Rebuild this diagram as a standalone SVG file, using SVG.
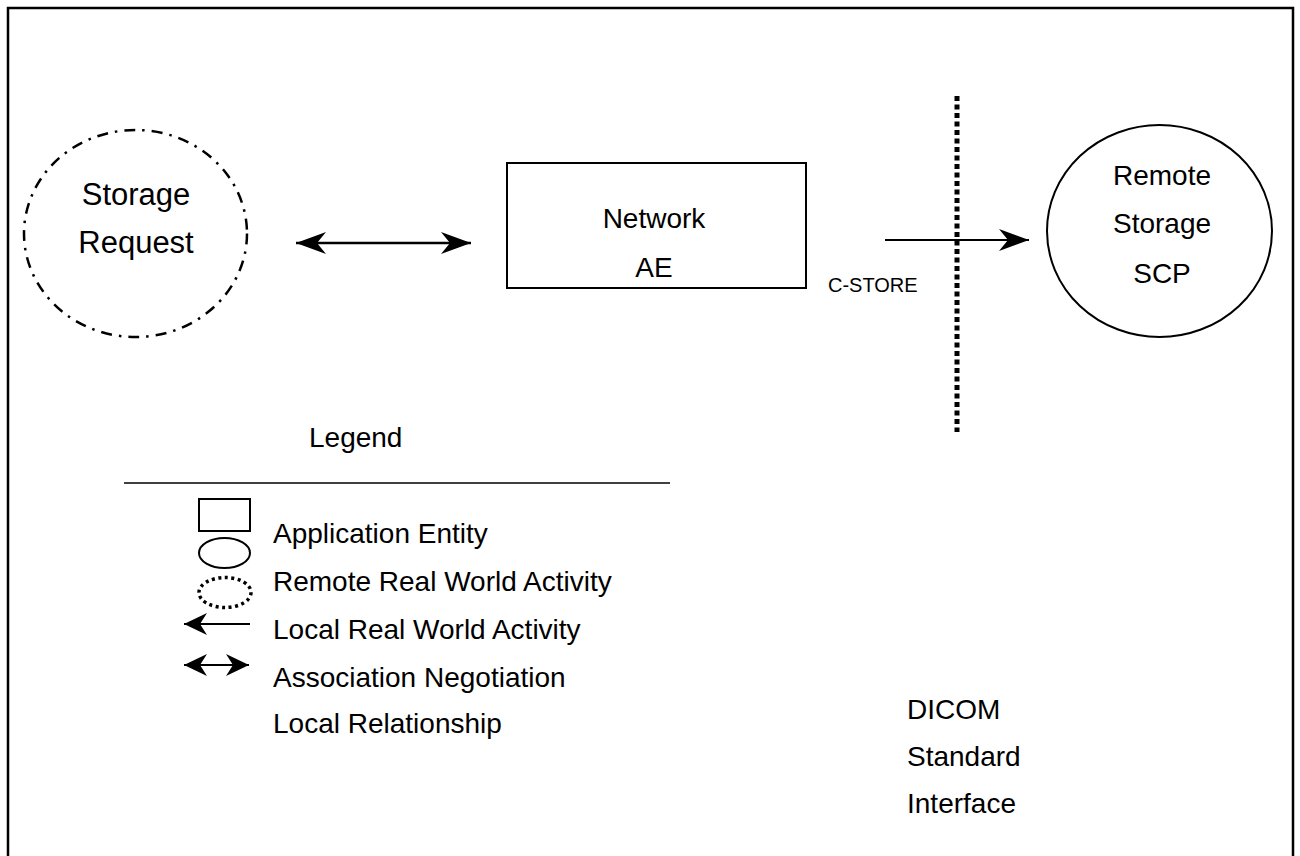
<svg xmlns="http://www.w3.org/2000/svg" width="1300" height="856" viewBox="0 0 1300 856">
<defs>
<style>
text{font-family:"Liberation Sans",Arial,sans-serif;fill:#000}
.c{text-anchor:middle}
.n{font-size:28px}
.big{font-size:31px}
.sm{font-size:20px}
.ln{fill:none;stroke:#000;stroke-width:2}
</style>
<marker id="ah" markerUnits="userSpaceOnUse" markerWidth="32" markerHeight="24" refX="30" refY="11" orient="auto-start-reverse" viewBox="0 0 32 24">
<path d="M0,0 L30,11 L0,22 L9,11 z" fill="#000"/>
</marker>
<marker id="ahs" markerUnits="userSpaceOnUse" markerWidth="25" markerHeight="24" refX="23" refY="11" orient="auto-start-reverse" viewBox="0 0 25 24">
<path d="M0,0 L23,11 L0,22 L7,11 z" fill="#000"/>
</marker>
</defs>
<rect x="8" y="8" width="1285" height="900" fill="#fff" stroke="#000" stroke-width="2.5"/>

<g id="storage-request">
<ellipse cx="135.5" cy="233.5" rx="111.5" ry="103.5" fill="none" stroke="#000" stroke-width="2.5" stroke-dasharray="11 7 2.5 7"/>
<text class="c big" x="136" y="205">Storage</text>
<text class="c big" x="136" y="253">Request</text>
</g>

<g id="network-ae">
<rect x="507" y="163" width="299" height="125" fill="none" stroke="#000" stroke-width="2"/>
<text class="c n" x="654" y="228">Network</text>
<text class="c n" x="654" y="277">AE</text>
</g>

<g id="remote-storage-scp">
<ellipse cx="1159.5" cy="231" rx="112.5" ry="106" fill="none" stroke="#000" stroke-width="2"/>
<text class="c n" x="1162" y="185">Remote</text>
<text class="c n" x="1162" y="233">Storage</text>
<text class="c n" x="1162" y="283">SCP</text>
</g>

<g id="dicom-interface">
<line x1="957" y1="96" x2="957" y2="432" stroke="#000" stroke-width="5" stroke-dasharray="5 3.5"/>
<text class="n" x="907" y="719">DICOM</text>
<text class="n" x="907" y="766">Standard</text>
<text class="n" x="907" y="813">Interface</text>
</g>

<g id="connectors">
<line x1="296" y1="243" x2="471" y2="243" stroke="#000" stroke-width="2.5" marker-start="url(#ah)" marker-end="url(#ah)"/>
<line x1="885" y1="240" x2="1029" y2="240" stroke="#000" stroke-width="2" marker-end="url(#ah)"/>
<text class="sm" x="828" y="292">C-STORE</text>
</g>

<g id="legend">
<text class="n" x="309" y="447">Legend</text>
<line x1="124" y1="483" x2="670" y2="483" stroke="#000" stroke-width="1.5"/>
<rect x="199" y="499" width="51" height="32" class="ln" stroke-width="1.5"/>
<ellipse cx="224.5" cy="553" rx="25.5" ry="15" class="ln" stroke-width="1.5"/>
<ellipse cx="225" cy="592.5" rx="26" ry="15" fill="none" stroke="#000" stroke-width="3.5" stroke-dasharray="3 3.5"/>
<line x1="250" y1="624" x2="184" y2="624" stroke="#000" stroke-width="2" marker-end="url(#ahs)"/>
<line x1="184" y1="665" x2="249" y2="665" stroke="#000" stroke-width="2" marker-start="url(#ahs)" marker-end="url(#ahs)"/>
<text class="n" x="273" y="543">Application Entity</text>
<text class="n" x="273" y="591">Remote Real World Activity</text>
<text class="n" x="273" y="639">Local Real World Activity</text>
<text class="n" x="273" y="687">Association Negotiation</text>
<text class="n" x="273" y="733">Local Relationship</text>
</g>
</svg>
